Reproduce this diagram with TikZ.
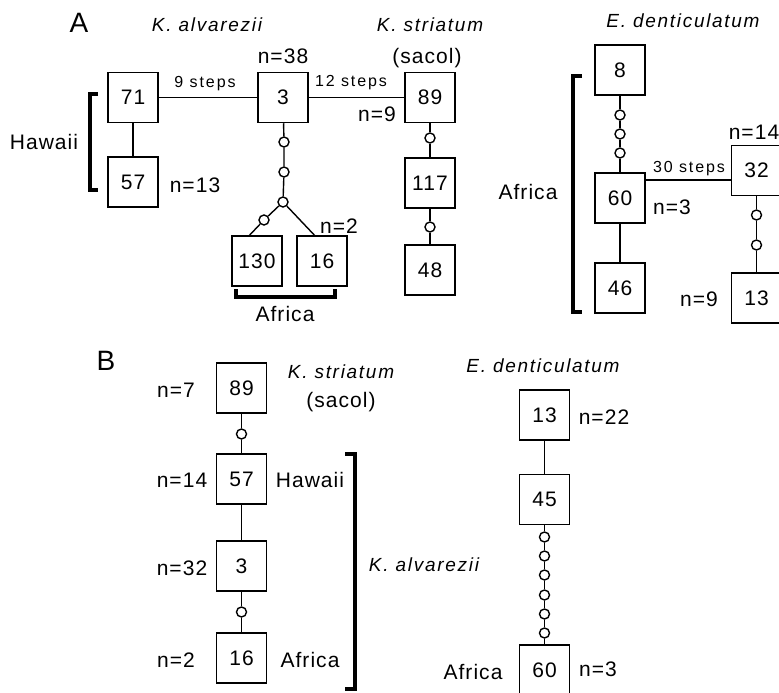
\documentclass[tikz,border=0pt]{standalone}
\usepackage{fontspec}
\setmainfont{Liberation Sans}[LetterSpace=5]
\tikzset{
 box/.style={draw, line width=1.5pt, minimum size=50pt, inner sep=0pt, font=\fontsize{21}{24}\selectfont},
 lab/.style={inner sep=0pt, font=\fontsize{21}{24}\selectfont},
 slab/.style={inner sep=0pt, font=\fontsize{16}{18}\selectfont\addfontfeature{LetterSpace=12}},
 sp/.style={inner sep=0pt, font=\fontsize{19}{21}\selectfont\itshape\addfontfeature{LetterSpace=9}},
 panel/.style={inner sep=0pt, font=\fontsize{28}{30}\selectfont\addfontfeature{LetterSpace=0}},
 dot/.style={draw, circle, fill=white, minimum size=10pt, inner sep=0pt, line width=1.4pt},
 link/.style={line width=1.4pt},
 brk/.style={line width=3.2pt},
}
\begin{document}
\begin{tikzpicture}[x=1pt,y=-1pt]
\useasboundingbox (0,0) rectangle (779,693);
\clip (0,0) rectangle (779,693);
% ---------- Panel A ----------
\node[panel] (lA) at (79,23) {A};
\node[sp] (tKa) at (207,25) {K. alvarezii};
\node[sp] (tKs) at (430,25) {K. striatum};
\node[lab] (sac1) at (427,58) {(sacol)};
\node[sp] (tEd) at (683,21) {E. denticulatum};

\node[box] (a71) at (133,97.5) {71};
\node[box] (a57) at (133,182) {57};
\node[lab] (n13) at (195,185) {n=13};
\node[lab] (haw) at (44,142) {Hawaii};
\draw[brk] (98,94) -- (90,94) -- (90,190) -- (98,190);
\draw[link] (a71) -- (a57);

\node[slab] (s9) at (205,84) {9 steps};
\node[box] (a3) at (283,97.5) {3};
\node[lab] (n38) at (283,56) {n=38};
\node[slab] (s12) at (351,83) {12 steps};
\node[box] (a89) at (430,97.5) {89};
\node[lab] (n9a) at (377,114) {n=9};
\node[box] (a117) at (430,183) {117};
\node[box] (a48) at (430,270) {48};
\node[dot] (d1) at (430,138) {};
\node[dot] (d2) at (430,227) {};
\draw[link] (a71) -- (a3);
\draw[link] (a3) -- (a89);
\draw[link] (a89) -- (d1) -- (a117) -- (d2) -- (a48);

\node[dot] (d3) at (284,142) {};
\node[dot] (d4) at (284,172) {};
\node[dot] (d5) at (283,202) {};
\node[dot] (d6) at (264,220) {};
\node[box] (a130) at (257,261) {130};
\node[box] (a16) at (322,261) {16};
\coordinate (e130) at (249,235.8);
\coordinate (e16) at (315,235.8);
\draw[link] (a3) -- (d3) -- (d4) -- (d5) -- (d6) -- (e130);
\draw[link] (d5) -- (e16);
\node[lab] (n2) at (339,226) {n=2};
\draw[brk] (236,289) -- (236,297) -- (335,297) -- (335,289);
\node[lab] (afA) at (285,314) {Africa};

\node[box] (e8) at (620,70) {8};
\node[dot] (f1) at (620,115) {};
\node[dot] (f2) at (620,134) {};
\node[dot] (f3) at (620,153) {};
\node[box] (e60) at (620,198) {60};
\node[box] (e46) at (620,288) {46};
\draw[link] (e8) -- (f1) -- (f2) -- (f3) -- (e60) -- (e46);
\node[lab] (n3a) at (672,207) {n=3};
\node[slab] (s30) at (689,169) {30 steps};
\node[box] (e32) at (756.5,170.5) {32};
\node[lab] (n14a) at (754,132) {n=14};
\node[dot] (f4) at (756.5,215) {};
\node[dot] (f5) at (756.5,245) {};
\node[box] (e13) at (756.5,298) {13};
\draw[link] (e32) -- (f4) -- (f5) -- (e13);
\node[lab] (n9b) at (699,299) {n=9};
\node[lab] (afR) at (528,192) {Africa};
\draw[brk] (582,76) -- (573,76) -- (573,312) -- (582,312);
\coordinate (h30) at (0,180);
\draw[link] (e60.east |- h30) -- (e32.west |- h30);

% ---------- Panel B ----------
\node[panel] (lB) at (106,361) {B};
\node[box] (b89) at (241.5,388) {89};
\node[lab] (n7) at (176,390) {n=7};
\node[sp] (tKs2) at (341,372) {K. striatum};
\node[lab] (sac2) at (341,402) {(sacol)};
\node[dot] (g1) at (241.5,434) {};
\node[box] (b57) at (241.5,479) {57};
\node[lab] (n14b) at (182,480) {n=14};
\node[lab] (hawB) at (310,480) {Hawaii};
\node[box] (b3) at (241.5,566) {3};
\node[lab] (n32) at (182,568) {n=32};
\node[dot] (g2) at (241.5,612) {};
\node[box] (b16) at (241.5,658) {16};
\node[lab] (n2b) at (176,660) {n=2};
\node[lab] (afB) at (310,660) {Africa};
\draw[link] (b89) -- (g1) -- (b57) -- (b3) -- (g2) -- (b16);
\draw[brk] (345,454) -- (355,454) -- (355,689) -- (345,689);
\node[sp] (tKa2) at (424,565) {K. alvarezii};

\node[sp] (tEd2) at (543,366) {E. denticulatum};
\node[box] (c13) at (544.5,415) {13};
\node[lab] (n22) at (604,417) {n=22};
\node[box] (c45) at (544.5,499.5) {45};
\node[dot] (h1) at (544.5,537) {};
\node[dot] (h2) at (544.5,556) {};
\node[dot] (h3) at (544.5,575) {};
\node[dot] (h4) at (544.5,595) {};
\node[dot] (h5) at (544.5,614) {};
\node[dot] (h6) at (544.5,633) {};
\node[box] (c60) at (544.5,670) {60};
\draw[link] (c13) -- (c45) -- (h1) -- (h2) -- (h3) -- (h4) -- (h5) -- (h6) -- (c60);
\node[lab] (afB2) at (473,672) {Africa};
\node[lab] (n3b) at (598,669) {n=3};
\end{tikzpicture}
\end{document}
